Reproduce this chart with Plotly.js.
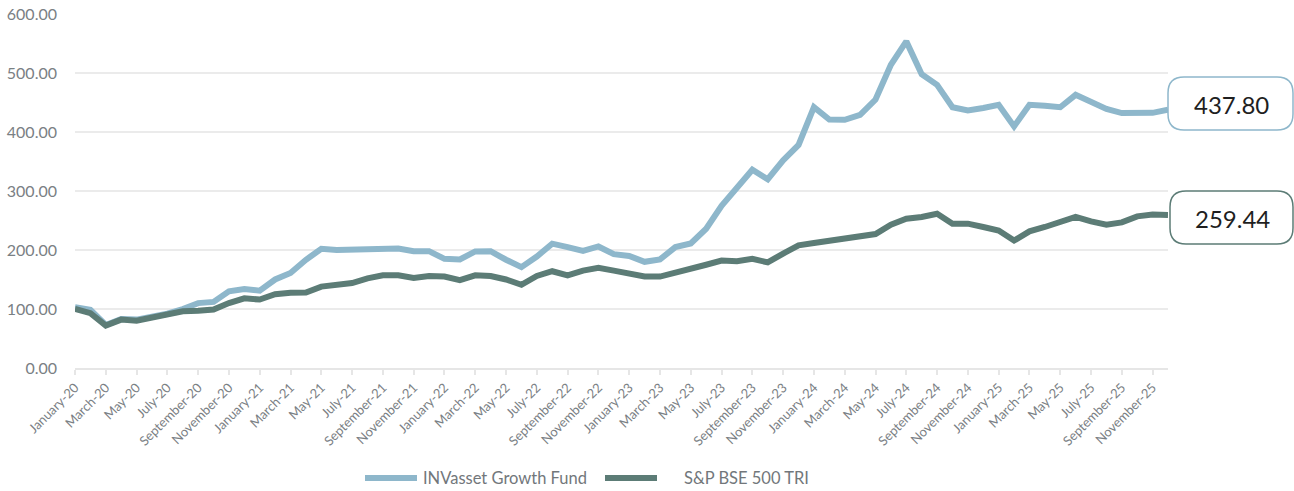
<!DOCTYPE html>
<html>
<head>
<meta charset="utf-8">
<script src="https://cdn.plot.ly/plotly-3.0.1.min.js"></script>
<style>
  html, body { margin: 0; padding: 0; background: #fff; }
  #chart { width: 1294px; height: 491px; }
</style>
</head>
<body>
<div id="chart"></div>
<script>
// months, Jan-20 .. Dec-25
var months = [
  "January-20", "February-20", "March-20", "April-20", "May-20", "June-20", "July-20", "August-20", "September-20", "October-20", "November-20", "December-20",
  "January-21", "February-21", "March-21", "April-21", "May-21", "June-21", "July-21", "August-21", "September-21", "October-21", "November-21", "December-21",
  "January-22", "February-22", "March-22", "April-22", "May-22", "June-22", "July-22", "August-22", "September-22", "October-22", "November-22", "December-22",
  "January-23", "February-23", "March-23", "April-23", "May-23", "June-23", "July-23", "August-23", "September-23", "October-23", "November-23", "December-23",
  "January-24", "February-24", "March-24", "April-24", "May-24", "June-24", "July-24", "August-24", "September-24", "October-24", "November-24", "December-24",
  "January-25", "February-25", "March-25", "April-25", "May-25", "June-25", "July-25", "August-25", "September-25", "October-25", "November-25", "December-25"
];

var fundValues = [
  103, 98.5, 73, 83, 82, 87, 92, 100, 110, 112, 130, 134,
  131, 150, 161, 183.5, 202, 200, 200.5, 201, 202, 202.5, 198, 198,
  185, 184, 197.6, 198, 183.5, 171, 189, 210.7, 205, 198.5, 206, 193,
  190, 180, 184, 205, 211, 236, 275, 307, 336, 320, 352, 378,
  442, 421, 420.7, 429, 455, 514, 553.6, 498, 480, 442, 436.6, 440.7,
  446, 409.5, 446, 444.6, 442, 463, 450, 439, 432, 432, 432.5, 437.80
];

var benchValues = [
  100, 93, 72, 82, 80, 86, 92, 96, 97, 99, 110, 118,
  116, 125, 127.5, 128, 138, 141, 144, 152, 157, 157, 152.5, 156,
  155, 149, 157, 156, 150, 141, 156, 164, 157, 165, 170, 165,
  160, 155, 155, 161, 168, 175, 182, 181, 185, 179, 194, 208,
  212, 216, 218, 224, 227, 243, 253, 256, 261.5, 244.6, 244.6, 239,
  233, 216, 231.6, 239, 246.8, 256, 248.5, 243, 246.8, 257, 260, 259.44
];

var seriesNames = ["INVasset Growth Fund", "S&P BSE 500 TRI"];
var fundColor = "#8eb7cb";
var benchColor = "#5c7c76";

// every other month gets a tick
var tickMonths = months.filter(function (m, i) { return i % 2 === 0; });

// plot box in pixels
var L = 75, R = 1168, T = 14, B = 368;
function px(x) { return (x - L) / (R - L); }
function py(y) { return (B - y) / (B - T); }

// rounded box drawn in paper coords
function roundBox(x0, y0, x1, y1, r, color) {
  var rx = r / (R - L), ry = r / (B - T);
  var a = px(x0), b = px(x1), top = py(y0), bot = py(y1);
  var d = "M" + (a + rx) + "," + top +
    " L" + (b - rx) + "," + top +
    " Q" + b + "," + top + " " + b + "," + (top - ry) +
    " L" + b + "," + (bot + ry) +
    " Q" + b + "," + bot + " " + (b - rx) + "," + bot +
    " L" + (a + rx) + "," + bot +
    " Q" + a + "," + bot + " " + a + "," + (bot + ry) +
    " L" + a + "," + (top - ry) +
    " Q" + a + "," + top + " " + (a + rx) + "," + top + " Z";
  return {type: "path", xref: "paper", yref: "paper", path: d,
    line: {color: color, width: 1.5}, fillcolor: "#ffffff", layer: "above"};
}

var data = [
  {x: months, y: fundValues, name: seriesNames[0], type: "scatter", mode: "lines",
   line: {color: fundColor, width: 6, shape: "linear"}, hoverinfo: "x+y"},
  {x: months, y: benchValues, name: seriesNames[1], type: "scatter", mode: "lines",
   line: {color: benchColor, width: 6, shape: "linear"}, hoverinfo: "x+y"}
];

var lastFund = fundValues[fundValues.length - 1];
var lastBench = benchValues[benchValues.length - 1];

var shapes = [
  roundBox(1168, 77, 1293, 130, 16, fundColor),
  roundBox(1170, 191, 1293, 244, 16, benchColor),
  // legend samples
  {type: "line", xref: "paper", yref: "paper", x0: px(365), x1: px(417), y0: py(478), y1: py(478),
   line: {color: fundColor, width: 6}},
  {type: "line", xref: "paper", yref: "paper", x0: px(605), x1: px(657), y0: py(478), y1: py(478),
   line: {color: benchColor, width: 6}}
];

var annotations = [
  {xref: "paper", yref: "paper", x: px(1231), y: py(104), text: lastFund.toFixed(2), showarrow: false,
   xanchor: "center", yanchor: "middle", font: {family: "Lato, sans-serif", size: 24, color: "#1f1f1f"}},
  {xref: "paper", yref: "paper", x: px(1232), y: py(218), text: lastBench.toFixed(2), showarrow: false,
   xanchor: "center", yanchor: "middle", font: {family: "Lato, sans-serif", size: 24, color: "#1f1f1f"}},
  {xref: "paper", yref: "paper", x: px(421), y: py(478), text: seriesNames[0], showarrow: false,
   xanchor: "left", yanchor: "middle", font: {family: "Lato, sans-serif", size: 16.5, color: "#72777b"}},
  {xref: "paper", yref: "paper", x: px(682), y: py(478), text: seriesNames[1], showarrow: false,
   xanchor: "left", yanchor: "middle", font: {family: "Lato, sans-serif", size: 16.5, color: "#72777b"}}
];

var layout = {
  width: 1294,
  height: 491,
  margin: {l: L, r: 1294 - R, t: T, b: 491 - B, pad: 0},
  paper_bgcolor: "#ffffff",
  plot_bgcolor: "#ffffff",
  showlegend: false,
  font: {family: "Lato, sans-serif", color: "#7a8084"},
  xaxis: {
    type: "category",
    range: [0, months.length - 1],
    tickmode: "array",
    tickvals: tickMonths,
    ticktext: tickMonths,
    tickangle: -45,
    tickfont: {size: 13, color: "#7a8084"},
    ticks: "outside",
    ticklen: 5,
    tickwidth: 2,
    tickcolor: "#e6e6e6",
    showgrid: false,
    showline: true,
    linecolor: "#e6e6e6",
    linewidth: 2,
    zeroline: false,
    fixedrange: true
  },
  yaxis: {
    range: [0, 600],
    tickvals: [0, 100, 200, 300, 400, 500, 600],
    tickformat: ".2f",
    tickfont: {size: 16, color: "#7a8084"},
    ticklabelstandoff: 17,
    showgrid: true,
    gridcolor: "#ebebeb",
    gridwidth: 2,
    zeroline: false,
    showline: false,
    fixedrange: true
  },
  shapes: shapes,
  annotations: annotations
};

Plotly.newPlot("chart", data, layout, {displayModeBar: false, staticPlot: true});
</script>
</body>
</html>
